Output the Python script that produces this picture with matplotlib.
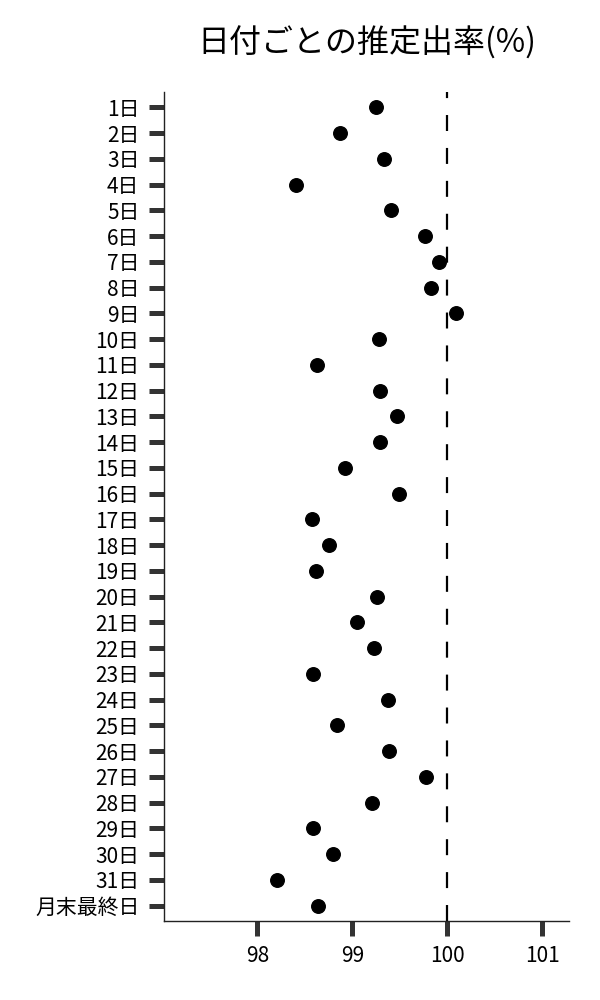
import numpy as np
import matplotlib
matplotlib.use("Agg")
from matplotlib import pyplot as plt

plt.rcParams['font.family'] = ['Noto Sans CJK JP', 'DejaVu Sans']

days = [str(i) + "日" for i in range(1, 32)] + ["月末最終日"]
rates = [99.25, 98.87, 99.33, 98.41, 99.41, 99.77, 99.91, 99.83, 100.09, 99.28,
         98.63, 99.29, 99.47, 99.29, 98.92, 99.49, 98.58, 98.75, 98.62, 99.26,
         99.05, 99.23, 98.59, 99.38, 98.84, 99.39, 99.78, 99.21, 98.59, 98.80,
         98.21, 98.64]
ref_line = 100
xticks = [98, 99, 100, 101]

fig = plt.figure(figsize=(6, 10), dpi=100)
ax = fig.add_axes([0.274, 0.079, 0.674, 0.829])

ypos = np.arange(len(days))
ax.scatter(rates, ypos, s=95, color='black', zorder=3)
lw = 1.6
ax.axvline(ref_line, color='black', linewidth=lw, linestyle=(0, (11.5 / lw, 12.2 / lw)), zorder=2)

ax.set_yticks(ypos)
ax.set_yticklabels(days)
ax.set_ylim(len(days) - 0.4, -0.6)
ax.set_xticks(xticks)
ax.set_xticklabels([str(v) for v in xticks])
ax.set_xlim(97.02, 101.28)

ax.spines['top'].set_visible(False)
ax.spines['right'].set_visible(False)
for s in ['left', 'bottom']:
    ax.spines[s].set_color('#222222')
    ax.spines[s].set_linewidth(1.0)

ax.tick_params(axis='y', length=11, width=3.6, color='#333333', pad=7, labelsize=15)
ax.tick_params(axis='x', length=11, width=3.6, color='#333333', pad=6, labelsize=15)

ax.set_title("日付ごとの推定出率(%)", fontsize=23, pad=28)

fig.savefig("out.png", dpi=100)
